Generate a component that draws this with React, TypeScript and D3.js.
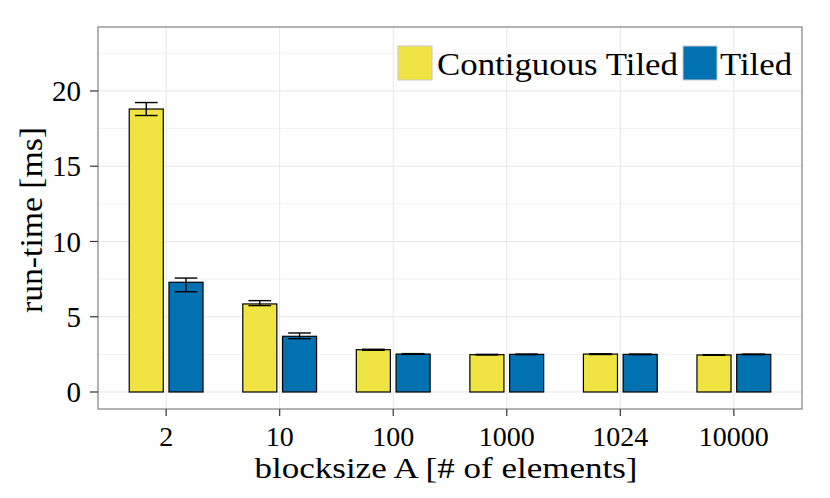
import React from "react";
import * as d3 from "d3";

const WIDTH = 830;
const HEIGHT = 498;
const PANEL = { left: 98, right: 802, top: 27, bottom: 409 };

const categories = ["2", "10", "100", "1000", "1024", "10000"];
const seriesNames = ["Contiguous Tiled", "Tiled"];
const seriesColors = ["#F0E442", "#0072B2"];

// mean run-time [ms] per blocksize, with error bar ends
const contiguousMean = [18.8, 5.85, 2.81, 2.48, 2.52, 2.46];
const contiguousLow = [18.37, 5.74, 2.77, 2.46, 2.49, 2.44];
const contiguousHigh = [19.23, 6.07, 2.84, 2.5, 2.54, 2.48];
const tiledMean = [7.29, 3.7, 2.52, 2.5, 2.5, 2.5];
const tiledLow = [6.66, 3.54, 2.5, 2.48, 2.48, 2.48];
const tiledHigh = [7.57, 3.92, 2.55, 2.52, 2.52, 2.52];

const yTicks = [0, 5, 10, 15, 20];
const yMinor = [2.5, 7.5, 12.5, 17.5, 22.5];

const FONT = "'Liberation Serif', serif";

export default function App() {
  const series = [
    { mean: contiguousMean, low: contiguousLow, high: contiguousHigh },
    { mean: tiledMean, low: tiledLow, high: tiledHigh },
  ];

  // discrete axis: 0.6 unit expansion on each side
  const x = d3
    .scalePoint<string>()
    .domain(categories)
    .range([PANEL.left, PANEL.right])
    .padding(0.6);
  const unit = x.step();
  const dodge = d3.scalePoint<number>().domain([0, 1]).range([-0.175 * unit, 0.175 * unit]);
  const barW = 0.3 * unit;
  const capW = 0.2 * unit;

  const y = d3.scaleLinear().domain([-1.13, 24.25]).range([PANEL.bottom, PANEL.top]);

  return (
    <svg
      width={WIDTH}
      height={HEIGHT}
      style={{ position: "absolute", left: 0, top: 0, background: "#fff" }}
      fontFamily={FONT}
    >
      {/* grid */}
      {yMinor.map((v) => (
        <line key={"mn" + v} x1={PANEL.left} x2={PANEL.right} y1={y(v)} y2={y(v)} stroke="#f2f2f2" strokeWidth={1} />
      ))}
      {yTicks.map((v) => (
        <line key={"mj" + v} x1={PANEL.left} x2={PANEL.right} y1={y(v)} y2={y(v)} stroke="#e6e6e6" strokeWidth={1} />
      ))}
      {categories.map((c) => (
        <line key={"vx" + c} x1={x(c)} x2={x(c)} y1={PANEL.top} y2={PANEL.bottom} stroke="#e6e6e6" strokeWidth={1} />
      ))}

      {/* bars + error bars */}
      {series.map((s, si) =>
        categories.map((c, i) => {
          const cx = (x(c) as number) + (dodge(si) as number);
          return (
            <g key={si + "-" + c}>
              <rect
                x={cx - barW / 2}
                y={y(s.mean[i])}
                width={barW}
                height={y(0) - y(s.mean[i])}
                fill={seriesColors[si]}
                stroke="#000"
                strokeWidth={1.2}
              />
              <line x1={cx} x2={cx} y1={y(s.low[i])} y2={y(s.high[i])} stroke="#000" strokeWidth={1.4} />
              <line x1={cx - capW / 2} x2={cx + capW / 2} y1={y(s.low[i])} y2={y(s.low[i])} stroke="#000" strokeWidth={1.4} />
              <line x1={cx - capW / 2} x2={cx + capW / 2} y1={y(s.high[i])} y2={y(s.high[i])} stroke="#000" strokeWidth={1.4} />
            </g>
          );
        })
      )}

      {/* panel border */}
      <rect
        x={PANEL.left}
        y={PANEL.top}
        width={PANEL.right - PANEL.left}
        height={PANEL.bottom - PANEL.top}
        fill="none"
        stroke="#808080"
        strokeWidth={1.2}
      />

      {/* y axis */}
      {yTicks.map((v) => (
        <g key={"yt" + v}>
          <line x1={PANEL.left - 8} x2={PANEL.left} y1={y(v)} y2={y(v)} stroke="#333" strokeWidth={1.2} />
          <text x={PANEL.left - 17} y={y(v)} dy="0.35em" textAnchor="end" fontSize={29} fill="#000">
            {v}
          </text>
        </g>
      ))}
      <text
        transform={`translate(42,${(PANEL.top + PANEL.bottom) / 2 + 2}) rotate(-90)`}
        textAnchor="middle"
        fontSize={32}
        textLength={186}
        lengthAdjust="spacingAndGlyphs"
        fill="#000"
      >
        run-time [ms]
      </text>

      {/* x axis */}
      {categories.map((c) => (
        <g key={"xt" + c}>
          <line x1={x(c)} x2={x(c)} y1={PANEL.bottom} y2={PANEL.bottom + 7} stroke="#333" strokeWidth={1.2} />
          <text x={x(c)} y={446} textAnchor="middle" fontSize={28} fill="#000">
            {c}
          </text>
        </g>
      ))}
      <text
        x={(PANEL.left + PANEL.right) / 2 - 4}
        y={478}
        textAnchor="middle"
        fontSize={29}
        textLength={383}
        lengthAdjust="spacingAndGlyphs"
        fill="#000"
      >
        blocksize A [# of elements]
      </text>

      {/* legend */}
      <g>
        <rect x={398} y={46} width={34} height={34} fill={seriesColors[0]} stroke="#c8c8c8" strokeWidth={1} />
        <text x={437} y={75} fontSize={31} textLength={241} lengthAdjust="spacingAndGlyphs" fill="#000">
          {seriesNames[0]}
        </text>
        <rect x={683} y={46} width={34} height={34} fill={seriesColors[1]} stroke="#c8c8c8" strokeWidth={1} />
        <text x={720} y={75} fontSize={31} textLength={72} lengthAdjust="spacingAndGlyphs" fill="#000">
          {seriesNames[1]}
        </text>
      </g>
    </svg>
  );
}
